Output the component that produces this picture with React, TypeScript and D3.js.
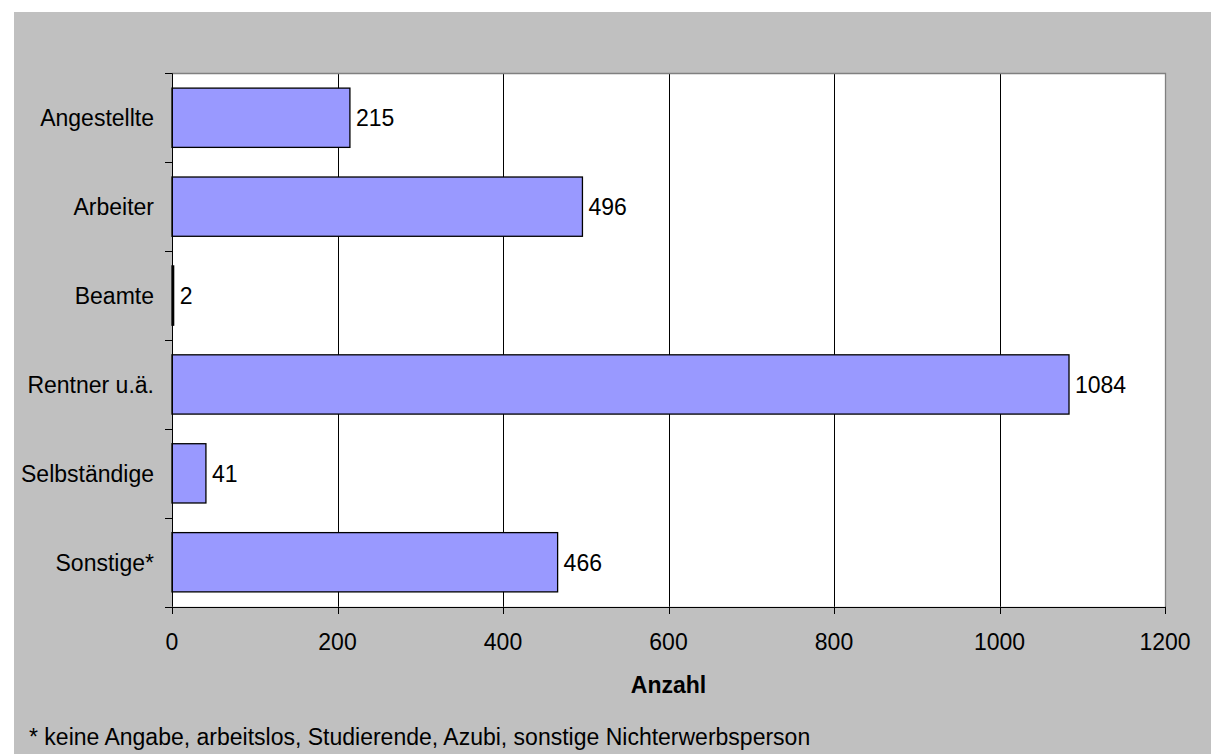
import React, { useEffect, useRef } from 'react';
import * as d3 from 'd3';

const categories = ['Angestellte', 'Arbeiter', 'Beamte', 'Rentner u.ä.', 'Selbständige', 'Sonstige*'];
const values = [215, 496, 2, 1084, 41, 466];
const xTicks = [0, 200, 400, 600, 800, 1000, 1200];
const xTitle = 'Anzahl';
const footnote = '* keine Angabe, arbeitslos, Studierende, Azubi, sonstige Nichterwerbsperson';

export default function App() {
  const svgRef = useRef<SVGSVGElement | null>(null);

  useEffect(() => {
    if (!svgRef.current) return;
    const svg = d3.select(svgRef.current);
    svg.selectAll('*').remove();

    const width = 1211;
    const height = 754;
    const plot = { left: 172, right: 1165, top: 73.3, bottom: 606.7 };
    const font = 'Liberation Sans, Arial, sans-serif';

    // background
    svg.append('rect')
      .attr('x', 14).attr('y', 12)
      .attr('width', width - 14).attr('height', height - 12)
      .attr('fill', '#c0c0c0');

    svg.append('rect')
      .attr('x', plot.left).attr('y', plot.top)
      .attr('width', plot.right - plot.left).attr('height', plot.bottom - plot.top)
      .attr('fill', '#ffffff');

    const x = d3.scaleLinear().domain([0, 1200]).range([plot.left, plot.right]);
    const y = d3.scaleBand<string>()
      .domain(categories)
      .range([plot.top, plot.bottom])
      .paddingInner(1 / 3)
      .paddingOuter(1 / 6);

    // gridlines
    svg.append('g')
      .selectAll('line')
      .data(xTicks.slice(1, -1))
      .join('line')
      .attr('x1', d => Math.round(x(d)) + 0.5)
      .attr('x2', d => Math.round(x(d)) + 0.5)
      .attr('y1', plot.top)
      .attr('y2', plot.bottom)
      .attr('stroke', '#000')
      .attr('stroke-width', 1);

    // plot border (top, right)
    svg.append('path')
      .attr('d', `M${plot.left},${Math.round(plot.top) + 0.5}H${Math.round(plot.right) + 0.5}V${plot.bottom}`)
      .attr('fill', 'none')
      .attr('stroke', '#808080')
      .attr('stroke-width', 1.3);

    // bars
    svg.append('g')
      .selectAll('rect')
      .data(categories)
      .join('rect')
      .attr('x', x(0))
      .attr('y', d => y(d) as number)
      .attr('width', (d, i) => x(values[i]) - x(0))
      .attr('height', y.bandwidth())
      .attr('fill', '#9999ff')
      .attr('stroke', '#000')
      .attr('stroke-width', 1.3);

    // value labels
    svg.append('g')
      .attr('font-family', font)
      .attr('font-size', 23)
      .selectAll('text')
      .data(categories)
      .join('text')
      .attr('x', (d, i) => x(values[i]) + 6)
      .attr('y', d => (y(d) as number) + y.bandwidth() / 2)
      .attr('dy', '0.36em')
      .attr('fill', '#000')
      .text((d, i) => values[i]);

    // y axis
    const step = y.step();
    const bounds = d3.range(categories.length + 1).map(i => plot.top + i * step);
    svg.append('g')
      .selectAll('line')
      .data(bounds)
      .join('line')
      .attr('x1', 165)
      .attr('x2', plot.left)
      .attr('y1', d => Math.round(d) + 0.5)
      .attr('y2', d => Math.round(d) + 0.5)
      .attr('stroke', '#000');
    svg.append('line')
      .attr('x1', plot.left + 0.5).attr('x2', plot.left + 0.5)
      .attr('y1', plot.top).attr('y2', plot.bottom)
      .attr('stroke', '#000');

    svg.append('g')
      .attr('font-family', font)
      .attr('font-size', 23)
      .attr('text-anchor', 'end')
      .selectAll('text')
      .data(categories)
      .join('text')
      .attr('x', 154)
      .attr('y', d => (y(d) as number) + y.bandwidth() / 2)
      .attr('dy', '0.36em')
      .text(d => d);

    // x axis
    svg.append('line')
      .attr('x1', plot.left).attr('x2', plot.right)
      .attr('y1', Math.round(plot.bottom) + 0.5).attr('y2', Math.round(plot.bottom) + 0.5)
      .attr('stroke', '#000');
    svg.append('g')
      .selectAll('line')
      .data(xTicks)
      .join('line')
      .attr('x1', d => Math.round(x(d)) + 0.5)
      .attr('x2', d => Math.round(x(d)) + 0.5)
      .attr('y1', plot.bottom)
      .attr('y2', 614)
      .attr('stroke', '#000');
    svg.append('g')
      .attr('font-family', font)
      .attr('font-size', 23)
      .attr('text-anchor', 'middle')
      .selectAll('text')
      .data(xTicks)
      .join('text')
      .attr('x', d => x(d))
      .attr('y', 650)
      .text(d => d);

    svg.append('text')
      .attr('x', x(600))
      .attr('y', 693)
      .attr('text-anchor', 'middle')
      .attr('font-family', font)
      .attr('font-size', 23)
      .attr('font-weight', 'bold')
      .text(xTitle);

    svg.append('text')
      .attr('x', 29)
      .attr('y', 745)
      .attr('font-family', font)
      .attr('font-size', 23)
      .text(footnote);
  }, []);

  return (
    <svg
      ref={svgRef}
      width={1211}
      height={754}
      style={{ position: 'absolute', left: 0, top: 0, display: 'block' }}
    />
  );
}
